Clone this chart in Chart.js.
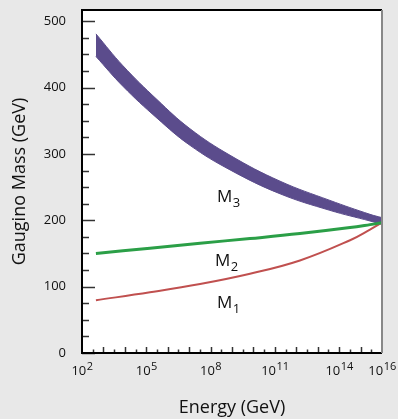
<!DOCTYPE html>
<html>
<head>
<meta charset="utf-8">
<script src="https://cdn.jsdelivr.net/npm/chart.js@4/dist/chart.umd.min.js"></script>
<style>
    html, body { margin: 0; padding: 0; background: #e8e8e8; }
    canvas { display: block; }
</style>
</head>
<body>
<canvas id="chart" width="398" height="419"></canvas>
<script>
// energies as powers of ten (GeV)
const m3Exponents = [2.65, 3.91, 5.5, 7.04, 8.91, 11.24, 13.57, 15.44, 16];
const m12Exponents = [2.65, 5.17, 7.51, 9.84, 12.17, 14.51, 15.44, 16];
// gaugino masses (GeV)
const m3Upper = [481, 433, 382, 338, 298, 259, 230, 209, 204];
const m3Lower = [447, 402, 354, 313, 276, 240, 215, 199, 194];
const m2Values = [150, 158, 165.5, 172.5, 180, 189, 193.5, 196.5];
const m1Values = [79.5, 91.5, 104, 119.5, 139.5, 170, 186, 196.5];

const xTickExponents = [2, 5, 8, 11, 14, 16];
const yTickValues = [0, 100, 200, 300, 400, 500];

// curve labels: [text, subscript, energy exponent, mass]
const curveLabels = [
    ['M', '3', 8.30, 228],
    ['M', '2', 8.21, 131],
    ['M', '1', 8.30, 68]
];

function toPoints(exps, values) {
    return values.map(function(v, i) {
        return { x: Math.pow(10, exps[i]), y: v };
    });
}

const FONT = "'Open Sans', sans-serif";

function noPadding(scale) {
    scale.paddingTop = 0;
    scale.paddingBottom = 0;
    scale.paddingLeft = 0;
    scale.paddingRight = 0;
}

const framePlugin = {
    id: 'frame',
    beforeDraw(chart) {
        const a = chart.chartArea;
        const c = chart.ctx;
        c.save();
        c.fillStyle = '#ffffff';
        c.fillRect(a.left, a.top, a.right - a.left, a.bottom - a.top);
        c.restore();
    },
    afterDraw(chart) {
        const a = chart.chartArea;
        const c = chart.ctx;
        const xs = chart.scales.x;
        const ys = chart.scales.y;
        c.save();
        // inward ticks, y axis
        c.strokeStyle = '#333';
        c.lineWidth = 1.5;
        for (let v = 0; v <= 500; v += 25) {
            const py = Math.round(ys.getPixelForValue(v)) + 0.5;
            const len = v % 100 === 0 ? 13 : 7;
            c.beginPath();
            c.moveTo(a.left, py);
            c.lineTo(a.left + len, py);
            c.stroke();
        }
        // inward ticks, x axis
        for (let e = 2.5; e < 16; e += 0.5) {
            const px = Math.round(xs.getPixelForValue(Math.pow(10, e))) + 0.5;
            const len = Number.isInteger(e) ? 6 : 3.5;
            c.beginPath();
            c.moveTo(px, a.bottom);
            c.lineTo(px, a.bottom - len);
            c.stroke();
        }
        // frame
        c.strokeStyle = '#000';
        c.lineWidth = 2;
        c.beginPath();
        c.moveTo(a.right, a.top);
        c.lineTo(a.left, a.top);
        c.lineTo(a.left, a.bottom);
        c.lineTo(a.right, a.bottom);
        c.stroke();
        c.strokeStyle = '#888';
        c.beginPath();
        c.moveTo(a.right, a.top);
        c.lineTo(a.right, a.bottom);
        c.stroke();

        c.fillStyle = '#111';
        c.textBaseline = 'alphabetic';
        c.textAlign = 'left';
        // x tick labels with raised exponents
        xTickExponents.forEach(function(e) {
            const px = xs.getPixelForValue(Math.pow(10, e));
            c.font = '13px ' + FONT;
            const wb = c.measureText('10').width;
            c.font = '11px ' + FONT;
            const we = c.measureText(String(e)).width;
            const x0 = px - (wb + we) / 2;
            c.font = '13px ' + FONT;
            c.fillText('10', x0, a.bottom + 22);
            c.font = '11px ' + FONT;
            c.fillText(String(e), x0 + wb + 0.5, a.bottom + 17);
        });
        // curve labels
        curveLabels.forEach(function(l) {
            const px = xs.getPixelForValue(Math.pow(10, l[2]));
            const py = ys.getPixelForValue(l[3]);
            c.font = '17px ' + FONT;
            c.fillText(l[0], px, py);
            const w = c.measureText(l[0]).width;
            c.font = '13px ' + FONT;
            c.fillText(l[1], px + w + 0.5, py + 5);
        });
        c.restore();
    }
};

const ctx = document.getElementById('chart');
new Chart(ctx, {
    type: 'line',
    data: {
        datasets: [
            {
                label: 'M2',
                data: toPoints(m12Exponents, m2Values),
                borderColor: '#2b9f47',
                borderWidth: 3,
                pointRadius: 0,
                fill: false,
                tension: 0.4
            },
            {
                label: 'M1',
                data: toPoints(m12Exponents, m1Values),
                borderColor: '#c0504f',
                borderWidth: 2,
                pointRadius: 0,
                fill: false,
                tension: 0.4
            },
            {
                label: 'M3 upper',
                data: toPoints(m3Exponents, m3Upper),
                borderColor: '#5b4c8c',
                backgroundColor: '#5b4c8c',
                borderWidth: 1,
                pointRadius: 0,
                fill: '+1',
                tension: 0.4
            },
            {
                label: 'M3 lower',
                data: toPoints(m3Exponents, m3Lower),
                borderColor: '#5b4c8c',
                borderWidth: 1,
                pointRadius: 0,
                fill: false,
                tension: 0.4
            }
        ]
    },
    options: {
        responsive: false,
        animation: false,
        devicePixelRatio: 1,
        layout: {
            padding: { left: 0, right: 16, top: 10, bottom: 0 }
        },
        plugins: {
            legend: { display: false },
            tooltip: { enabled: false }
        },
        scales: {
            x: {
                type: 'logarithmic',
                min: 1e2,
                max: 1e16,
                afterBuildTicks: function(scale) {
                    scale.ticks = xTickExponents.map(function(e) { return { value: Math.pow(10, e) }; });
                },
                afterFit: function(scale) {
                    scale.height = 66;
                    noPadding(scale);
                },
                grid: { display: false, drawTicks: false },
                border: { display: false },
                ticks: { display: false },
                title: {
                    display: true,
                    text: 'Energy (GeV)',
                    color: '#111',
                    font: { family: FONT, size: 18 },
                    padding: { top: 0, bottom: 0 }
                }
            },
            y: {
                min: 0,
                max: 517,
                afterBuildTicks: function(scale) {
                    scale.ticks = yTickValues.map(function(v) { return { value: v }; });
                },
                afterFit: function(scale) {
                    scale.width = 82;
                    noPadding(scale);
                },
                grid: { display: false, drawTicks: false },
                border: { display: false },
                ticks: {
                    padding: 16,
                    color: '#111',
                    font: { family: FONT, size: 13 }
                },
                title: {
                    display: true,
                    text: 'Gaugino Mass (GeV)',
                    color: '#111',
                    font: { family: FONT, size: 18 },
                    padding: { top: 9, bottom: 0 }
                }
            }
        }
    },
    plugins: [framePlugin]
});
</script>
</body>
</html>
